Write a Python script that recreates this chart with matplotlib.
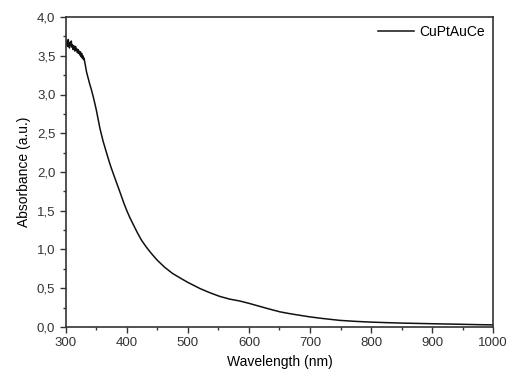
import numpy as np
import matplotlib
matplotlib.use('Agg')
import matplotlib.pyplot as plt
from matplotlib.ticker import MultipleLocator, FixedLocator, FixedFormatter

# Data (noisy start, then smooth decay)
wavelength = [300, 301, 302, 303, 304, 305, 306, 307, 308, 309, 310, 311, 312, 313, 314, 315,
              316, 317, 318, 319, 320, 321, 322, 323, 324, 325, 326, 327, 328, 329, 330, 331,
              332, 334, 337, 339, 342, 345, 348, 350, 353, 356, 361, 367, 372, 375, 380, 386,
              391, 395, 400, 405, 410, 417, 424, 432, 440, 450, 462, 475, 490,
              500, 510, 520, 535, 552, 568, 585, 600, 618, 634, 651, 668, 684, 700, 720, 749,
              775, 799, 825, 850, 875, 899, 925, 951, 975, 1000]
absorbance = [3.70, 3.64, 3.68, 3.62, 3.71, 3.65, 3.60, 3.67, 3.63, 3.69, 3.61, 3.64, 3.58, 3.63, 3.60, 3.56,
              3.62, 3.57, 3.59, 3.54, 3.58, 3.53, 3.56, 3.51, 3.55, 3.49, 3.53, 3.47, 3.50, 3.45, 3.47, 3.42,
              3.38, 3.29, 3.20, 3.14, 3.06, 2.97, 2.87, 2.80, 2.68, 2.56, 2.40, 2.24, 2.11, 2.04, 1.93, 1.80,
              1.69, 1.60, 1.50, 1.41, 1.33, 1.22, 1.12, 1.03, 0.95, 0.86, 0.77, 0.69, 0.62,
              0.575, 0.535, 0.495, 0.445, 0.395, 0.36, 0.335, 0.305, 0.265, 0.23, 0.195, 0.17, 0.15, 0.13, 0.11, 0.085,
              0.072, 0.063, 0.056, 0.050, 0.046, 0.042, 0.038, 0.034, 0.030, 0.027]
series_label = 'CuPtAuCe'

x_ticks = [300, 400, 500, 600, 700, 800, 900, 1000]
y_ticks = [0.0, 0.5, 1.0, 1.5, 2.0, 2.5, 3.0, 3.5, 4.0]
y_tick_labels = ['0,0', '0,5', '1,0', '1,5', '2,0', '2,5', '3,0', '3,5', '4,0']

plt.rcParams['font.family'] = ['Liberation Sans', 'DejaVu Sans']

fig = plt.figure(figsize=(5.1, 3.78), dpi=100)
ax = fig.add_axes([0.129, 0.135, 0.838, 0.82])

ax.plot(wavelength, absorbance, color='#111111', lw=1.1, label=series_label)

ax.set_xlim(300, 1000)
ax.set_ylim(0, 4.0)
ax.xaxis.set_major_locator(FixedLocator(x_ticks))
ax.xaxis.set_minor_locator(MultipleLocator(50))
ax.yaxis.set_major_locator(FixedLocator(y_ticks))
ax.yaxis.set_major_formatter(FixedFormatter(y_tick_labels))
ax.yaxis.set_minor_locator(MultipleLocator(0.25))

ax.tick_params(which='major', direction='out', length=4, width=1, labelsize=9.5, colors='#333333')
ax.tick_params(which='minor', direction='out', length=2.5, width=1, colors='#333333')
ax.tick_params(top=False, right=False, which='both')
for s in ax.spines.values():
    s.set_linewidth(1.2)
    s.set_color('#333333')

ax.set_xlabel('Wavelength (nm)', fontsize=10, labelpad=4)
ax.set_ylabel('Absorbance (a.u.)', fontsize=10, labelpad=4)

ax.legend(loc='upper right', frameon=False, fontsize=10, handlelength=2.6,
          borderaxespad=0.2, handletextpad=0.4)

fig.savefig('out.png', dpi=100)
